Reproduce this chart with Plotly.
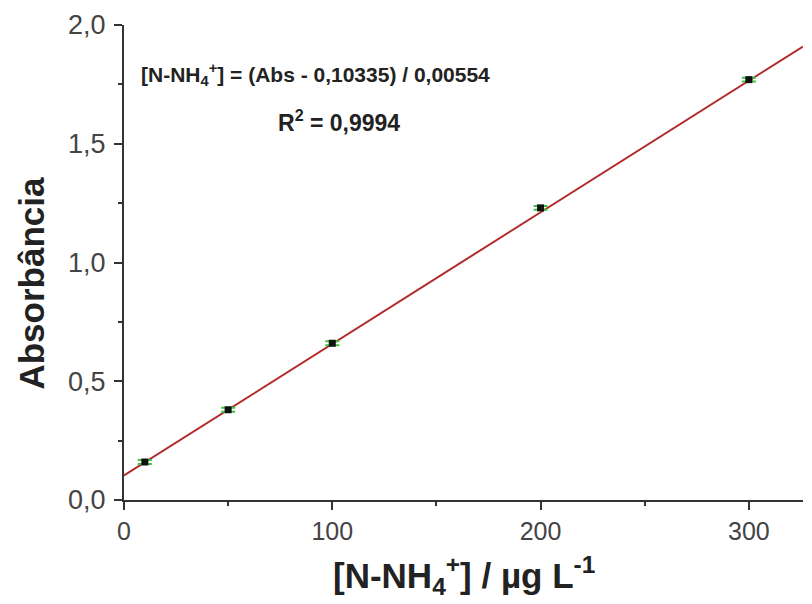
import plotly.graph_objects as go

conc = [10, 50, 100, 200, 300]
absorb = [0.16, 0.38, 0.66, 1.23, 1.77]
err = [0.008, 0.008, 0.008, 0.008, 0.008]
intercept = 0.10335
slope = 0.00554
fit_x = [0, 326]
fit_y = [intercept + slope * v for v in fit_x]

FONT = "Liberation Sans, Arial, sans-serif"

fig = go.Figure()
fig.add_trace(go.Scatter(x=fit_x, y=fit_y, mode="lines",
                         line=dict(color="#b22a2a", width=2), showlegend=False))
fig.add_trace(go.Scatter(x=conc, y=absorb, mode="markers",
                         marker=dict(symbol="square", size=7, color="#111111"),
                         error_y=dict(type="data", array=err, color="#3cc43c",
                                      thickness=2, width=7),
                         showlegend=False))

axis_common = dict(ticks="outside", ticklen=8, tickwidth=2, tickcolor="#333333",
                   showline=True, linecolor="#333333", linewidth=2,
                   showgrid=False, zeroline=False, automargin=False)

fig.update_layout(
    width=804, height=596,
    margin=dict(l=116, r=9, t=17, b=104),
    paper_bgcolor="white", plot_bgcolor="white",
    separators=",.",
    font=dict(family=FONT, color="#444444"),
    xaxis=dict(range=[0, 326], tickvals=[0, 100, 200, 300],
               tickfont=dict(size=25, color="#444444"),
               minor=dict(ticks="outside", ticklen=4, tickwidth=2,
                          tickcolor="#333333", dtick=50, showgrid=False),
               **axis_common),
    yaxis=dict(range=[0, 2.0], tickvals=[0, 0.5, 1.0, 1.5, 2.0], tickformat=".1f",
               tickfont=dict(size=27, color="#444444"), ticklabelstandoff=3,
               minor=dict(ticks="outside", ticklen=4, tickwidth=2,
                          tickcolor="#333333", dtick=0.25, showgrid=False),
               **axis_common),
    annotations=[
        dict(text="<b>Absorbância</b>", xref="paper", yref="paper",
             x=-0.136, y=0.457, xanchor="center", yanchor="middle",
             textangle=-90, showarrow=False,
             font=dict(size=35, color="#222222", family=FONT)),
        dict(text="<b>[N-NH<sub>4</sub><sup>+</sup>] / µg L<sup>-1</sup></b>",
             xref="paper", yref="paper", x=0.5, y=-0.158,
             xanchor="center", yanchor="middle", showarrow=False,
             font=dict(size=35, color="#222222", family=FONT)),
        dict(text="<b>[N-NH<sub>4</sub><sup>+</sup>] = (Abs - 0,10335) / 0,00554</b>",
             xref="x", yref="y", x=7, y=1.79, xanchor="left", yanchor="middle",
             showarrow=False,
             font=dict(size=21, color="#222222", family=FONT)),
        dict(text="<b>R<sup>2</sup> = 0,9994</b>",
             xref="x", yref="y", x=103, y=1.595, xanchor="center", yanchor="middle",
             showarrow=False,
             font=dict(size=23, color="#222222", family=FONT)),
    ],
)

fig.write_html("out.html")
